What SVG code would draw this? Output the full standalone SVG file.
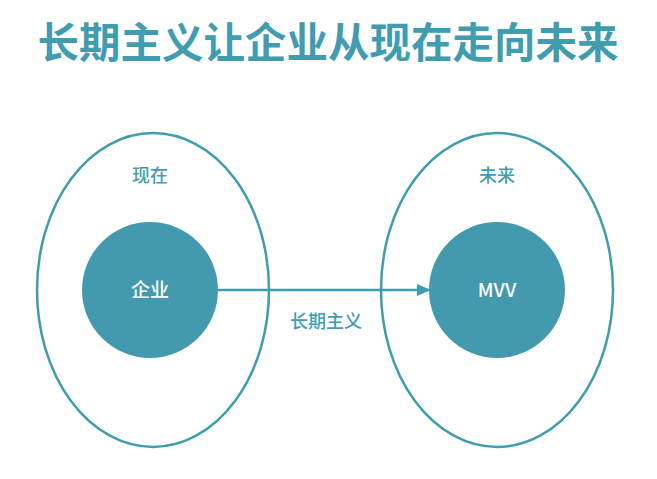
<svg xmlns="http://www.w3.org/2000/svg" width="657" height="479" viewBox="0 0 657 479">
<style>
.t{font-family:"Noto Sans CJK SC","Liberation Sans",sans-serif;}
.ell{fill:none;stroke:#3f9daf;stroke-width:2.5}
.c{fill:#4399ae}
.w{fill:#fff;font-size:19px;font-weight:500}
.l{fill:#3f9daf;font-size:18px;font-weight:500}
</style>
<defs><marker id="a" markerWidth="14" markerHeight="12" refX="12" refY="6" orient="auto" markerUnits="userSpaceOnUse"><path d="M0,0 L14,6 L0,12 z" fill="#3f9daf"/></marker></defs>
<rect width="657" height="479" fill="#fff"/>
<text class="t" x="328" y="58" text-anchor="middle" font-size="41.5" font-weight="bold" fill="#3f9daf">长期主义让企业从现在走向未来</text>
<g id="now"><ellipse class="ell" cx="153" cy="290" rx="116" ry="157"/><text class="t l" x="150" y="182" text-anchor="middle">现在</text></g>
<g id="future"><ellipse class="ell" cx="497" cy="290" rx="116" ry="157"/><text class="t l" x="497" y="182" text-anchor="middle">未来</text></g>
<g id="qiye"><circle class="c" cx="150" cy="290" r="68"/><text class="t w" x="150" y="297" text-anchor="middle">企业</text></g>
<g id="mvv"><circle class="c" cx="497" cy="290" r="68"/><text class="t w" x="497" y="297" text-anchor="middle">MVV</text></g>
<g id="connectors"><line x1="218" y1="290" x2="429" y2="290" stroke="#3f9daf" stroke-width="2.5" marker-end="url(#a)"/>
<text class="t l" x="326" y="328" text-anchor="middle">长期主义</text></g>
</svg>
